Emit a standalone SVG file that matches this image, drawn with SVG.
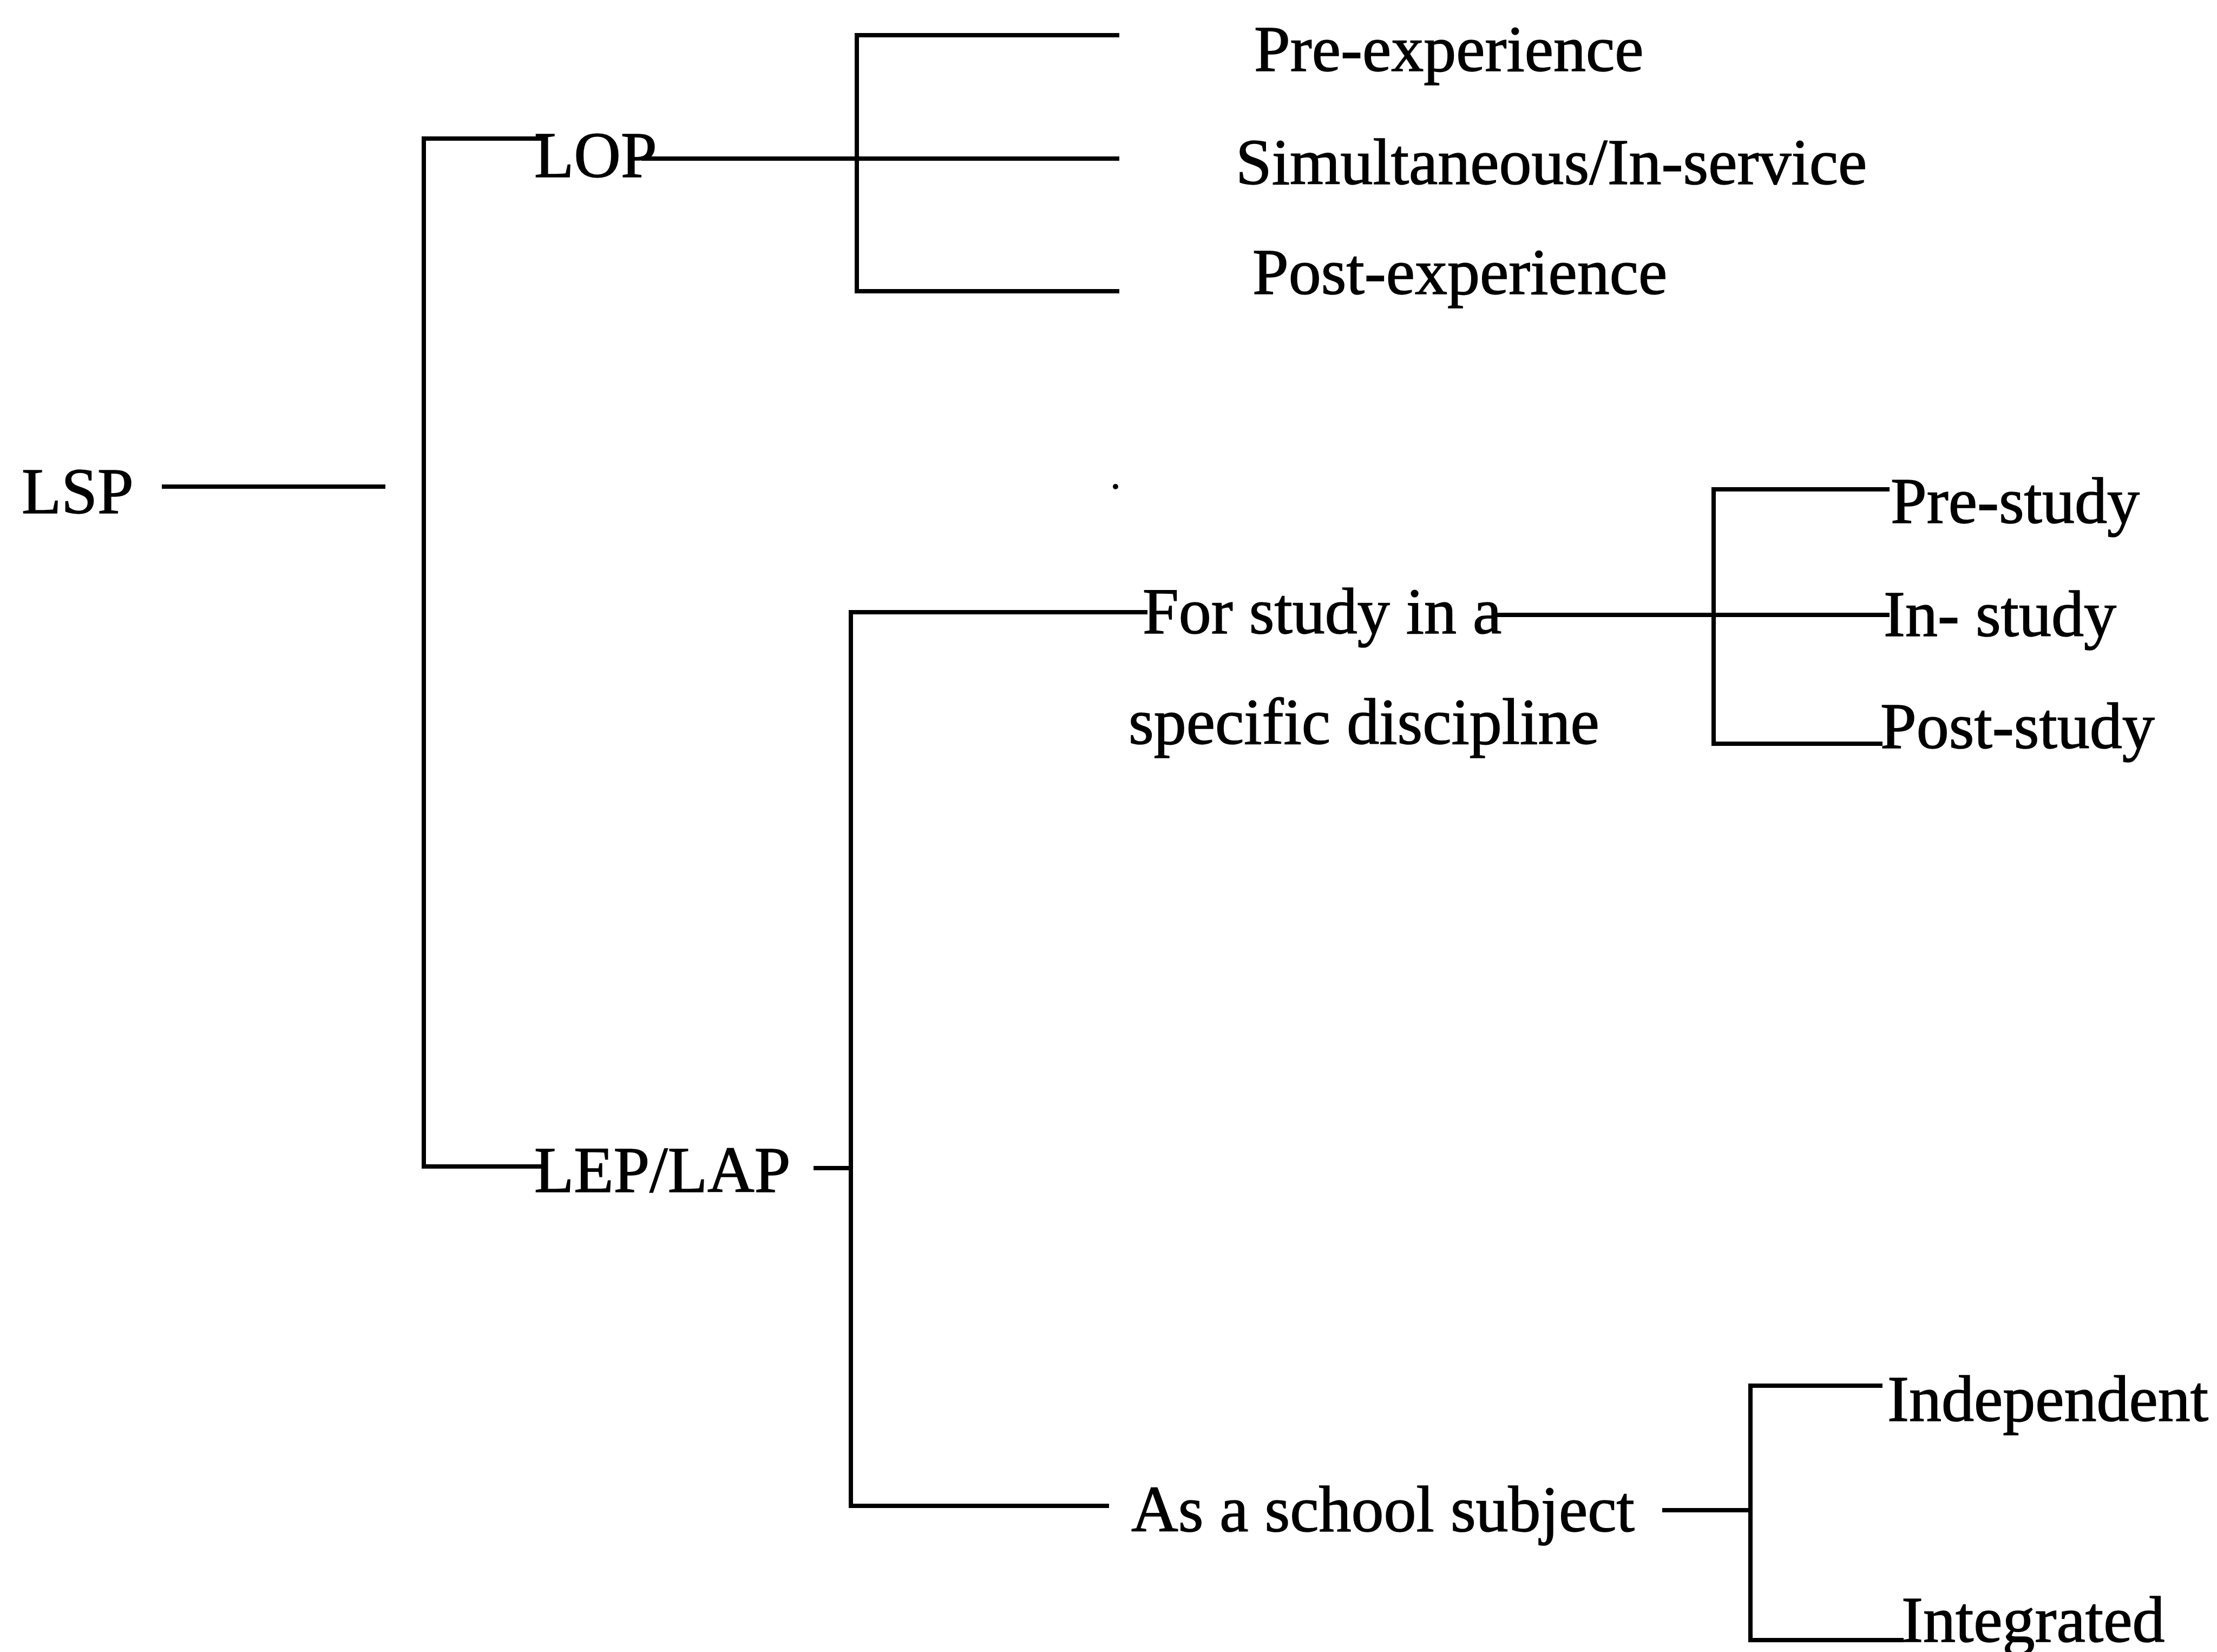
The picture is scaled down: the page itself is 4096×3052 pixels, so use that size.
<svg xmlns="http://www.w3.org/2000/svg" width="4096" height="3052" viewBox="0 0 4096 3052">
  <style>
    .lbl { font-family: "Liberation Serif", "Times New Roman", serif; font-size: 120px; fill: #000; stroke: #000; stroke-width: 1.5; }
    .ln { stroke: #000; stroke-width: 8; fill: none; stroke-linecap: square; }
  </style>
  <rect width="4096" height="3052" fill="#fff"/>

  <!-- connectors -->
  <g id="connectors" class="ln">
    <!-- root -->
    <line x1="303" y1="899" x2="708" y2="899"/>
    <path d="M1005 256 H783 V2155 H1005"/>
    <!-- LOP branch -->
    <line x1="1189" y1="293" x2="2064" y2="293"/>
    <path d="M2064 65 H1583 V538 H2064"/>
    <!-- LEP/LAP branch -->
    <line x1="1507" y1="2158" x2="1569" y2="2158"/>
    <path d="M2116 1131 H1572 V2782 H2045"/>
    <!-- study branch -->
    <line x1="2769" y1="1136" x2="3487" y2="1136"/>
    <path d="M3487 904 H3166 V1374 H3474"/>
    <!-- school subject branch -->
    <line x1="3075" y1="2790" x2="3234" y2="2790"/>
    <path d="M3474 2560 H3234 V3030 H3513"/>
  </g>
  <circle cx="2061" cy="899" r="5" fill="#000"/>

  <g id="n-lsp"><text class="lbl" x="40" y="948">LSP</text></g>
  <g id="n-lop"><text class="lbl" x="987" y="327">LOP</text></g>
  <g id="n-pre-exp"><text class="lbl" x="2317" y="131">Pre-experience</text></g>
  <g id="n-simul"><text class="lbl" x="2283" y="340">Simultaneous/In-service</text></g>
  <g id="n-post-exp"><text class="lbl" x="2314" y="543">Post-experience</text></g>
  <g id="n-lep"><text class="lbl" x="987" y="2202">LEP/LAP</text></g>
  <g id="n-study">
    <text class="lbl" x="2111" y="1170">For study in a</text>
    <text class="lbl" x="2085" y="1374">specific discipline</text>
  </g>
  <g id="n-pre-study"><text class="lbl" x="3493" y="966">Pre-study</text></g>
  <g id="n-in-study"><text class="lbl" x="3480" y="1175">In- study</text></g>
  <g id="n-post-study"><text class="lbl" x="3474" y="1382">Post-study</text></g>
  <g id="n-school"><text class="lbl" x="2090" y="2829">As a school subject</text></g>
  <g id="n-indep"><text class="lbl" x="3487" y="2625">Independent</text></g>
  <g id="n-integ"><text class="lbl" x="3513" y="3033">Integrated</text></g>
</svg>
